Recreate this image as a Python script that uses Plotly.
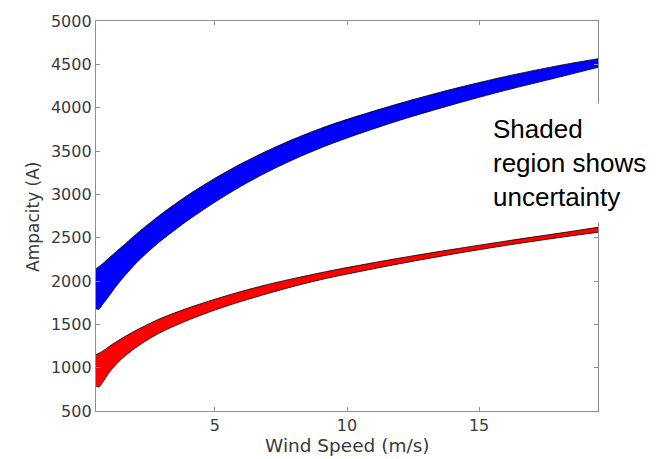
import plotly.graph_objects as go

# Wind speed samples (m/s)
wind = [0.5, 0.6, 0.75, 1.0, 1.25, 1.5, 2.0, 2.5, 3.0, 4.0, 5.0, 6.0, 7.0, 8.0, 9.0,
        10.0, 12.0, 14.0, 16.0, 18.0, 19.5]

# Blue band (upper / lower bounds of ampacity, A)
blue_upper = [2140, 2163, 2200, 2268, 2335, 2400, 2535, 2660, 2780, 2995, 3185, 3355,
              3505, 3640, 3760, 3865, 4050, 4215, 4360, 4485, 4565]
blue_lower = [1680, 1672, 1730, 1830, 1935, 2030, 2200, 2345, 2475, 2705, 2910, 3095,
              3260, 3405, 3535, 3650, 3855, 4035, 4200, 4350, 4465]

# Red band
red_upper = [1150, 1165, 1190, 1245, 1295, 1342, 1428, 1505, 1575, 1690, 1790, 1880,
             1960, 2030, 2095, 2155, 2265, 2365, 2460, 2550, 2620]
red_lower = [790, 776, 830, 945, 1035, 1110, 1230, 1330, 1415, 1550, 1665, 1765,
             1855, 1940, 2015, 2080, 2200, 2310, 2410, 2500, 2562]

y_ticks = [500, 1000, 1500, 2000, 2500, 3000, 3500, 4000, 4500, 5000]
x_ticks = [5, 10, 15]

x_label = "Wind Speed (m/s)"
y_label = "Ampacity (A)"
note = "Shaded<br>region shows<br>uncertainty"

fig = go.Figure()

for up, lo, col in [(blue_upper, blue_lower, "#0000ff"), (red_upper, red_lower, "#ff0000")]:
    fig.add_trace(go.Scatter(
        x=wind, y=lo, mode="lines",
        line=dict(color="#000000", width=0.8, shape="spline", smoothing=0.8),
        hoverinfo="skip", showlegend=False,
    ))
    fig.add_trace(go.Scatter(
        x=wind, y=up, mode="lines", fill="tonexty", fillcolor=col,
        line=dict(color="#000000", width=0.8, shape="spline", smoothing=0.8),
        hoverinfo="skip", showlegend=False,
    ))

axis_col = "#8e8e8e"
tick_font = dict(family="DejaVu Sans", size=16, color="#3a3a3a")

fig.update_xaxes(
    range=[0.5, 19.5], tickvals=x_ticks, ticks="inside", ticklen=4, tickcolor=axis_col,
    showline=True, linecolor=axis_col, linewidth=1.3, mirror="ticks",
    showgrid=False, zeroline=False, tickfont=tick_font,
)
fig.update_yaxes(
    range=[500, 5000], tickvals=y_ticks, ticks="inside", ticklen=4, tickcolor=axis_col,
    showline=True, linecolor=axis_col, linewidth=1.3, mirror="ticks",
    showgrid=False, zeroline=False, tickfont=tick_font,
)

W, H = 672, 459
ml, mr, mt, mb = 96, 74, 15, 48
pw, ph = W - ml - mr, H - mt - mb

def px_x(p):
    return (p - ml) / pw

def px_y(p):
    return (H - mb - p) / ph

fig.add_annotation(
    x=px_x(347), y=px_y(446), xref="paper", yref="paper",
    text=x_label, showarrow=False, xanchor="center", yanchor="middle",
    font=dict(family="DejaVu Sans", size=18.5, color="#3a3a3a"),
)
fig.add_annotation(
    x=px_x(33), y=px_y(214), xref="paper", yref="paper",
    text=y_label, showarrow=False, textangle=-90, xanchor="center", yanchor="middle",
    font=dict(family="DejaVu Sans", size=17, color="#3a3a3a"),
)
fig.add_annotation(
    x=px_x(492), y=px_y(159), xref="paper", yref="paper",
    text=note, showarrow=False, xanchor="left", yanchor="middle", align="left",
    width=176, height=118, bgcolor="#ffffff", borderpad=0,
    font=dict(family="Liberation Sans, Arial", size=26, color="#000000"),
)

fig.update_layout(
    width=W, height=H, autosize=False,
    margin=dict(l=ml, r=mr, t=mt, b=mb),
    paper_bgcolor="#ffffff", plot_bgcolor="#ffffff",
)

fig.write_html("out.html")
